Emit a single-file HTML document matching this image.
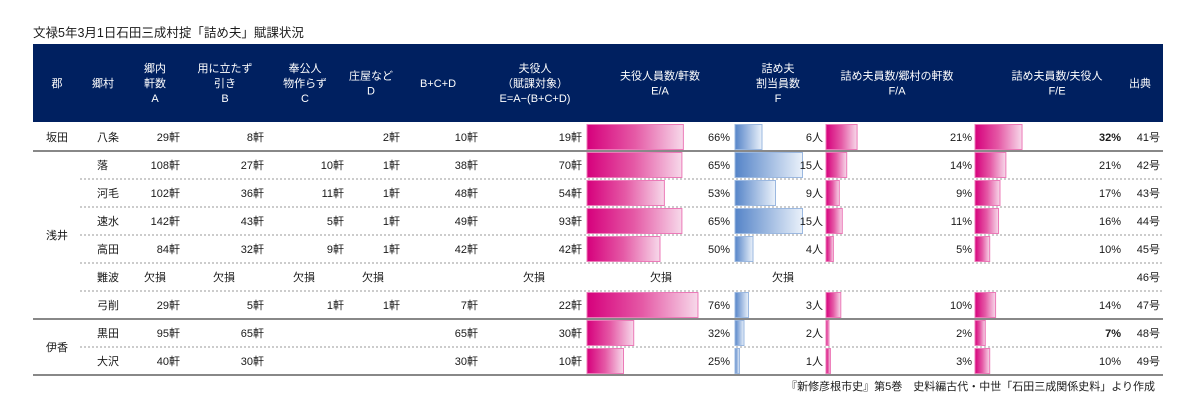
<!DOCTYPE html>
<html><head><meta charset="utf-8">
<style>
html,body{margin:0;padding:0;background:#fff;width:1200px;height:419px;overflow:hidden}
svg{display:block}
text{font-family:"Liberation Sans","Noto Sans CJK JP",sans-serif;font-size:11px;fill:#1a1a1a}
.h{fill:#fff;font-size:11px}
</style></head>
<body>
<svg id="chart" width="1200" height="419">
<defs>
<linearGradient id="pg" x1="0" x2="1"><stop offset="0" stop-color="#d6007c"/><stop offset="0.5" stop-color="#e55aa6"/><stop offset="1" stop-color="#f7d9ea"/></linearGradient>
<linearGradient id="bg" x1="0" x2="1"><stop offset="0" stop-color="#5584c8"/><stop offset="1" stop-color="#eaf1fa"/></linearGradient>
</defs>
<text x="33" y="37" style="font-size:12.5px">文禄5年3月1日石田三成村掟「詰め夫」賦課状況</text>
<rect x="33" y="44" width="1130" height="78" fill="#002060"/>
<g id="hdr"></g>
<g id="body"></g>
<text x="1155" y="390" text-anchor="end">『新修彦根市史』第5巻　史料編古代・中世「石田三成関係史料」より作成</text>
</svg>
<script>
const villages=["八条","落","河毛","速水","高田","難波","弓削","黒田","大沢"];
const groups=[["坂田",0,1],["浅井",1,7],["伊香",7,9]];
const colA=[29,108,102,142,84,null,29,95,40];
const colB=[8,27,36,43,32,null,5,65,30];
const colC=[null,10,11,5,9,null,1,null,null];
const colD=[2,1,1,1,1,null,1,null,null];
const colBCD=[10,38,48,49,42,null,7,65,30];
const colE=[19,70,54,93,42,null,22,30,10];
const ratioEA=[66,65,53,65,50,null,76,32,25];
const colF=[6,15,9,15,4,null,3,2,1];
const ratioFA=[21,14,9,11,5,null,10,2,3];
const ratioFE=[32,21,17,16,10,null,14,7,10];
const sources=["41号","42号","43号","44号","45号","46号","47号","48号","49号"];
const headers=[[57,["郡"]],[103,["郷村"]],[155,["郷内","軒数","A"]],[225,["用に立たず","引き","B"]],[305,["奉公人","物作らず","C"]],[371,["庄屋など","D"]],[438,["B+C+D"]],[535,["夫役人","（賦課対象）","E=A−(B+C+D)"]],[660,["夫役人員数/軒数","E/A"]],[778,["詰め夫","割当員数","F"]],[897,["詰め夫員数/郷村の軒数","F/A"]],[1057,["詰め夫員数/夫役人","F/E"]],[1140,["出典"]]];
const NS="http://www.w3.org/2000/svg";
function mk(tag,attrs,parent,txt){const e=document.createElementNS(NS,tag);for(const k in attrs)e.setAttribute(k,attrs[k]);if(txt!=null)e.textContent=txt;parent.appendChild(e);return e;}
const hdr=document.getElementById('hdr'),body=document.getElementById('body');
headers.forEach((h,i)=>{const n=h[1].length;const y0=83-(n-1)*7.5+4;
h[1].forEach((s,j)=>{const t=mk('text',{x:h[0],y:y0+j*15,'text-anchor':'middle',class:'h'},hdr,s);

});});
const top0=123,rh=28;
const rowY=i=>top0+i*rh;
const xEA=v=>v/100*146, xF=v=>v*4.5, xFA=v=>v*1.48, xFE=v=>v*1.47;
function txt(x,y,s,anchor,name,bold){const t=mk('text',{x:x,y:y,'text-anchor':anchor||'end'},body,s);if(bold)t.setAttribute('font-weight','bold');

return t;}
function bar(x0,w,y,fill,stroke,name){const r=mk('rect',{x:x0,y:y+1.5,width:Math.max(w,1),height:rh-3,fill:fill,stroke:stroke,'stroke-width':1},body);

}
villages.forEach((v,i)=>{const y=rowY(i),ty=y+rh/2+4;
txt(97,ty,v,'start','village-name');
if(colA[i]==null){[[144,'A'],[213,'B'],[293,'C'],[362,'D'],[523,'E'],[650,'EA'],[772,'F']].forEach(p=>txt(p[0],ty,'欠損','start','missing-'+p[1]));}
else{
txt(180,ty,colA[i]+'軒','end','value-a');
txt(264,ty,colB[i]+'軒','end','value-b');
if(colC[i]!=null)txt(344,ty,colC[i]+'軒','end','value-c');
if(colD[i]!=null)txt(400,ty,colD[i]+'軒','end','value-d');
txt(478,ty,colBCD[i]+'軒','end','value-bcd');
txt(582,ty,colE[i]+'軒','end','value-e');
bar(587,xEA(ratioEA[i]),y,'url(#pg)','#ec7ab8','bar-e-over-a');
txt(730,ty,ratioEA[i]+'%','end','pct-e-over-a');
bar(735,xF(colF[i]),y,'url(#bg)','#9bb8e0','bar-f');
txt(823,ty,colF[i]+'人','end','value-f');
bar(826,xFA(ratioFA[i]),y,'url(#pg)','#ec7ab8','bar-f-over-a');
txt(972,ty,ratioFA[i]+'%','end','pct-f-over-a');
bar(975,xFE(ratioFE[i]),y,'url(#pg)','#ec7ab8','bar-f-over-e');
txt(1121,ty,ratioFE[i]+'%','end','pct-f-over-e',ratioFE[i]===32||ratioFE[i]===7);
}
txt(1160,ty,sources[i],'end','source-ref');
});
groups.forEach(g=>{const yc=(rowY(g[1])+rowY(g[2]))/2+4;txt(57,yc,g[0],'middle','district-name');
for(let i=g[1]+1;i<g[2];i++){const l=mk('line',{x1:80,x2:1163,y1:rowY(i),y2:rowY(i),stroke:'#999','stroke-dasharray':'2,2','stroke-width':1},body);

}
const b=mk('line',{x1:33,x2:1163,y1:rowY(g[2]),y2:rowY(g[2]),stroke:'#888','stroke-width':2},body);

});
</script>
</body></html>
